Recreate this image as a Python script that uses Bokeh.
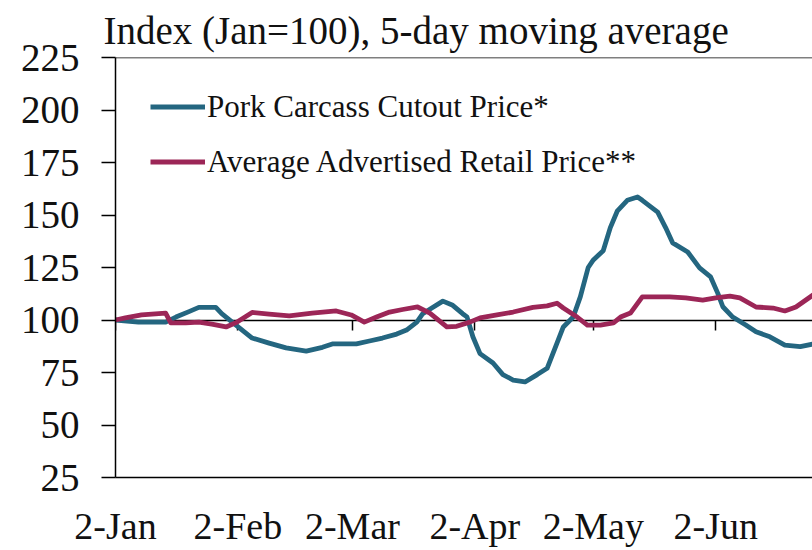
import pandas as pd
from bokeh.plotting import figure
from bokeh.models import FixedTicker, LinearAxis, Span, Legend, LegendItem, Range1d
from bokeh.embed import file_html
from bokeh.resources import INLINE

# ---------------- data ----------------
start_date = "2020-01-02"
tick_dates = ["2020-01-02", "2020-02-02", "2020-03-02", "2020-04-02", "2020-05-02", "2020-06-02"]
tick_labels = ["2-Jan", "2-Feb", "2-Mar", "2-Apr", "2-May", "2-Jun"]
y_ticks = [25, 50, 75, 100, 125, 150, 175, 200, 225]

title_text = "Index (Jan=100), 5-day moving average"
pork_name = "Pork Carcass Cutout Price*"
retail_name = "Average Advertised Retail Price**"

# days since 2-Jan-2020
pork_day = [0, 5.8, 12.7, 15.3, 18.6, 21.1, 25.4, 26.9, 30.5, 34.6, 38.9, 43.2, 48.3, 52.4,
            54.9, 61.0, 64.3, 67.6, 71.2, 73.7, 76.3, 77.8, 80.3, 82.9, 85.4, 87.9, 89.0,
            90.5, 92.3, 95.6, 98.1, 100.7, 103.7, 106.8, 109.3, 111.8, 113.4, 115.9, 117.7,
            119.7, 121.0, 123.5, 125.3, 127.1, 129.6, 132.2, 133.4, 137.3, 139.3, 141.1,
            144.9, 147.9, 150.7, 152.5, 153.8, 156.3, 159.6, 162.2, 165.7, 169.5, 173.4, 176.7]
pork_index = [100, 99, 99, 101.4, 104, 106, 106, 103, 97.6, 91.4, 89, 86.7, 85.2, 87,
              88.6, 88.6, 90, 91.4, 93.3, 95.2, 99, 103, 106, 109, 107, 103, 101.5,
              92, 84, 79.5, 74, 71.4, 70.5, 74, 77, 89, 96.7, 101.4, 111,
              125, 128.6, 133, 144, 152, 157, 158.6, 157, 151.4, 144, 136.7,
              132.4, 124.8, 120.5, 112.8, 106.3, 101.4, 97.6, 94.4, 92, 88, 87.3, 88.6]

retail_day = [0, 2.5, 6.6, 12.7, 14.0, 17.8, 21.1, 24.4, 28.0, 30.8, 34.6, 38.9, 44.0, 49.8,
              55.9, 59.7, 63.0, 66.1, 69.4, 72.7, 76.5, 79.6, 83.9, 86.4, 89.7, 92.3, 96.6,
              100.7, 105.7, 109.3, 111.8, 113.4, 116.9, 119.5, 122.8, 126.1, 127.9, 130.4,
              133.4, 140.3, 144.4, 148.7, 152.0, 155.6, 158.1, 162.2, 166.5, 169.5, 172.3, 176.7]
retail_index = [100, 101, 102.4, 103.3, 98.6, 98.6, 99, 98, 96.7, 99, 103.6, 102.8, 102, 103.3,
                104.3, 102.4, 99, 101.4, 103.8, 105, 106.2, 103.3, 96.7, 97, 99, 101, 102.4,
                103.8, 106, 106.7, 108, 105.7, 101.4, 97.6, 97.6, 98.6, 101.4, 103.3,
                111, 111, 110.5, 109.5, 110.5, 111.4, 110.5, 106.2, 105.7, 104.3, 106.2, 112]

# ---------------- styles ----------------
FONT = '"Liberation Serif", "DejaVu Serif", serif'
PORK_COLOR = "#246680"
RETAIL_COLOR = "#9C2657"

t0 = pd.Timestamp(start_date)
tick_days = [(pd.Timestamp(d) - t0).days for d in tick_dates]

p = figure(frame_width=697, frame_height=420,
           x_range=Range1d(0, 176.5), y_range=Range1d(25, 225),
           output_backend="svg", toolbar_location=None,
           min_border_left=115, min_border_right=0, min_border_top=40, min_border_bottom=0,
           background_fill_color="white", border_fill_color="white")
p.outline_line_color = None
p.grid.visible = False

p.title.text = title_text
p.title.text_font = FONT
p.title.text_font_size = "39px"
p.title.text_font_style = "normal"
p.title.text_color = "#111111"
p.title.align = "left"
p.title.offset = -12
p.title.standoff = 12

# bottom axis (labels only, line at 25)
xa = p.xaxis[0]
xa.ticker = FixedTicker(ticks=tick_days)
xa.major_label_overrides = {d: lbl for d, lbl in zip(tick_days, tick_labels)}
xa.major_tick_out = 0
xa.major_tick_in = 0
xa.minor_tick_line_color = None
xa.axis_line_color = "black"
xa.axis_line_width = 1.5
xa.major_label_text_font = FONT
xa.major_label_text_font_size = "38px"
xa.major_label_text_color = "#111111"
xa.major_label_standoff = 27

ya = p.yaxis[0]
ya.ticker = FixedTicker(ticks=y_ticks)
ya.major_tick_out = 14
ya.major_tick_in = 0
ya.major_tick_line_color = "black"
ya.major_tick_line_width = 1.5
ya.minor_tick_line_color = None
ya.axis_line_color = "black"
ya.axis_line_width = 1.5
ya.major_label_text_font = FONT
ya.major_label_text_font_size = "39px"
ya.major_label_text_color = "#111111"
ya.major_label_standoff = 22

# axis crossing at 100 with downward ticks (no labels)
ax100 = LinearAxis(fixed_location=100, ticker=FixedTicker(ticks=tick_days),
                   major_tick_in=10, major_tick_out=0,
                   major_tick_line_color="black", major_tick_line_width=1.5,
                   minor_tick_line_color=None,
                   axis_line_color="black", axis_line_width=1.5,
                   major_label_overrides={d: "" for d in tick_days},
                   major_label_text_font_size="8px", major_label_standoff=0,
                   level="underlay")
p.add_layout(ax100, "above")

p.add_layout(Span(location=225, dimension="width", line_color="black", line_width=1.5))

r_pork = p.line(pork_day, pork_index, line_color=PORK_COLOR, line_width=4.8, line_join="round")
r_retail = p.line(retail_day, retail_index, line_color=RETAIL_COLOR, line_width=4.8, line_join="round")

legend = Legend(items=[LegendItem(label=pork_name, renderers=[r_pork]),
                       LegendItem(label=retail_name, renderers=[r_retail])],
                location=(35, 288), padding=0, margin=0, spacing=0,
                glyph_width=55, glyph_height=55, label_height=55, label_standoff=2,
                label_text_font=FONT, label_text_font_size="31px", label_text_color="#111111",
                border_line_color=None, background_fill_alpha=0)
p.add_layout(legend, "center")

open("out.html", "w").write(file_html(p, INLINE))
